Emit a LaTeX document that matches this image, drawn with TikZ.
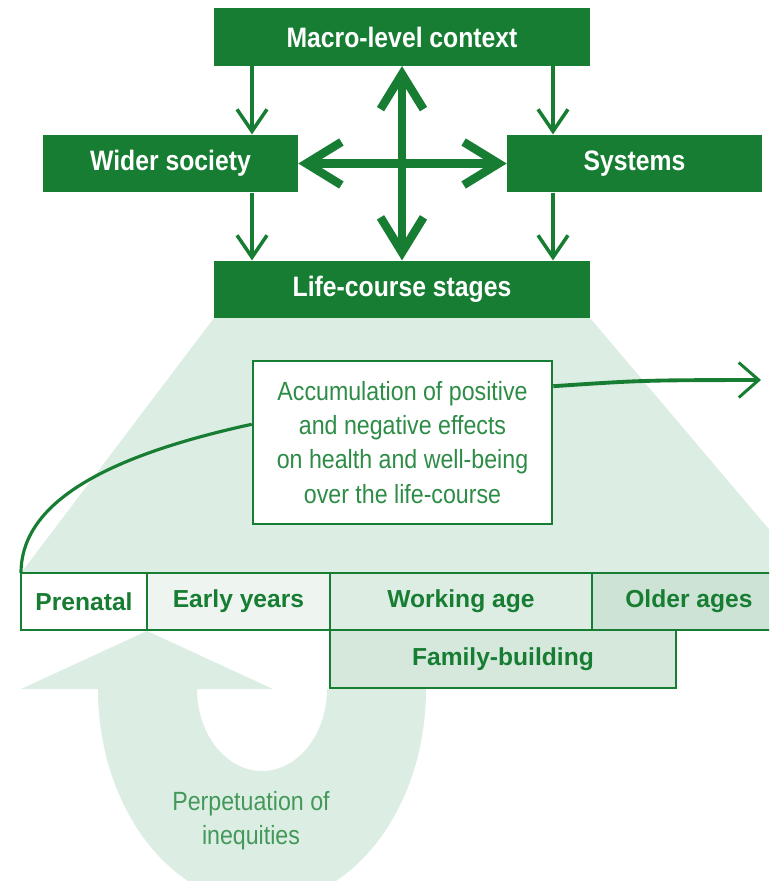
\documentclass[tikz,border=0pt]{standalone}
\usepackage{fontspec}
\setmainfont{Liberation Sans}
\newfontfamily\narrowfont[FakeStretch=0.88]{Liberation Sans}
\usepackage{xcolor}
\usepackage{tikz}
\usetikzlibrary{positioning,arrows.meta,calc}
\definecolor{darkgreen}{RGB}{23,125,51}
\definecolor{palegreen}{RGB}{220,237,227}
\definecolor{earlybg}{RGB}{238,245,240}
\definecolor{workbg}{RGB}{221,237,227}
\definecolor{olderbg}{RGB}{205,227,213}
\definecolor{familybg}{RGB}{213,232,219}
\definecolor{textgreen}{RGB}{67,152,90}
\definecolor{boxtext}{RGB}{45,140,70}

\tikzset{
  titlebox/.style={fill=darkgreen, text=white, minimum height=1.15cm, inner sep=0pt,
    font=\narrowfont\bfseries\fontsize{16}{18}\selectfont},
  stagebox/.style={draw=darkgreen, line width=1.5pt, minimum height=1.14cm, inner sep=0pt,
    outer sep=0pt, text=darkgreen, font=\bfseries\fontsize{14}{16}\selectfont},
  thinarrow/.style={draw=darkgreen, line width=2pt, -{Straight Barb[length=0.44cm,width=0.6cm]}},
  bigarrow/.style={draw=darkgreen, line width=4.8pt,
    {Straight Barb[length=0.7cm,width=0.86cm]}-{Straight Barb[length=0.7cm,width=0.86cm]}},
  accumline/.style={draw=darkgreen, line width=2pt},
}

\begin{document}
\begin{tikzpicture}[x=0.02cm, y=-0.02cm]
    \useasboundingbox (0,0) rectangle (769,881);
    \clip (0,0) rectangle (769,881);

    % Light background shapes
    \fill[palegreen] (214,318) -- (590,318) -- (806,573) -- (21,573) -- cycle;
    \fill[palegreen] (147,631) -- (273,689) -- (197,689)
        arc[start angle=180, end angle=0, x radius=65, y radius=82] -- (426,689)
        arc[start angle=0, end angle=180, x radius=164, y radius=215] -- (21,689) -- cycle;

    % Top level boxes
    \node[titlebox, minimum width=7.52cm] (macro) at (402,37) {Macro-level context};
    \node[titlebox, minimum width=5.1cm] (wider) at (170.5,163.5) {Wider society};
    \node[titlebox, minimum width=5.1cm] (systems) at (634.5,163.5) {Systems};
    \node[titlebox, minimum width=7.52cm] (life) at (402,289.5) {Life-course stages};

    % Arrow columns
    \coordinate (lx) at (252,0);
    \coordinate (rx) at (553,0);
    \draw[thinarrow] (macro.south -| lx) -- (wider.north -| lx);
    \draw[thinarrow] (macro.south -| rx) -- (systems.north -| rx);
    \draw[thinarrow] (wider.south -| lx) -- (life.north -| lx);
    \draw[thinarrow] (systems.south -| rx) -- (life.north -| rx);
    \draw[bigarrow] (macro.south) -- (life.north);
    \draw[bigarrow] (wider.east) -- (systems.west);

    % Stages
    \node[stagebox, fill=white, minimum width=2.52cm] (prenatal) at (84,601.5) {Prenatal};
    \node[stagebox, fill=earlybg, minimum width=3.66cm, right=0pt of prenatal] (early) {Early years};
    \node[stagebox, fill=workbg, minimum width=5.24cm, right=0pt of early] (working) {Working age};
    \node[stagebox, fill=olderbg, minimum width=3.88cm, right=0pt of working] (older) {Older ages};
    \node[stagebox, fill=familybg, minimum width=6.92cm, minimum height=1.16cm, anchor=north west]
        (family) at (working.south west) {Family-building};

    % Accumulation box
    \node[draw=darkgreen, line width=1.5pt, fill=white, minimum width=5.98cm, minimum height=3.26cm,
        align=center, text=boxtext, font=\narrowfont\fontsize{15}{19.4}\selectfont]
        (accum) at (402.5,442.5)
        {Accumulation of positive\\and negative effects\\on health and well-being\\over the life-course};

    \coordinate (accumend) at (761,380);
    \draw[accumline, line width=1.8pt] (prenatal.north west) .. controls +(0,-72) and +(-142,31)
        .. ($(accum.north west)!0.39!(accum.south west)$);
    \draw[accumline, line width=2.2pt, -{Straight Barb[length=0.4cm,width=0.7cm,line width=1.7pt]}]
        ($(accum.north east)!0.16!(accum.south east)$) .. controls +(90,-6) .. (accumend);

    % Perpetuation label
    \node[text=textgreen, align=center, font=\narrowfont\fontsize{15}{19.4}\selectfont]
        (perpet) at (251,821) {Perpetuation of\\inequities};
\end{tikzpicture}
\end{document}
